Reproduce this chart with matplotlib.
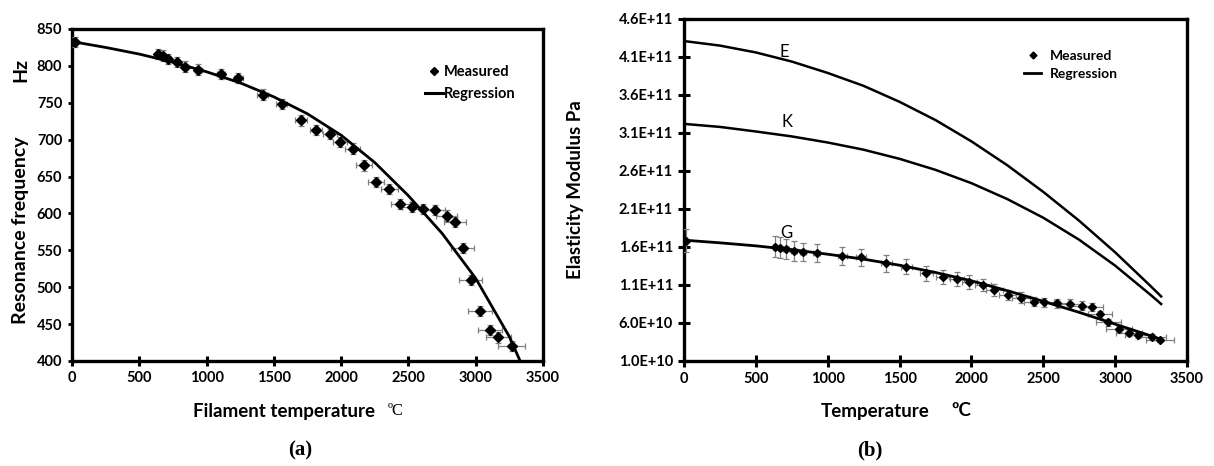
import matplotlib
matplotlib.use("Agg")
import matplotlib.pyplot as plt
from matplotlib.ticker import FuncFormatter
from matplotlib.lines import Line2D

plt.rcParams['font.family'] = ['Lato', 'DejaVu Sans']
plt.rcParams['font.weight'] = 'bold'

# ---------------- Panel (a) data ----------------
temps_a = [20, 641, 679, 716, 778, 840, 939, 1105, 1236, 1417, 1558, 1699, 1813, 1917,
           1992, 2086, 2170, 2262, 2358, 2441, 2524, 2606, 2697, 2784, 2846, 2903, 2963,
           3032, 3106, 3168, 3267]
freq_a = [832, 816, 814, 809, 805, 799, 795, 789, 784, 761, 748, 726, 713, 708,
          697, 688, 665, 643, 633, 613, 609, 606, 605, 597, 588, 553, 510,
          468, 442, 432, 420]
xerr_a = [10, 15, 15, 20, 20, 20, 25, 30, 35, 40, 40, 45, 45, 50,
          50, 55, 60, 60, 65, 70, 70, 75, 75, 80, 80, 85, 85,
          90, 90, 95, 100]
yerr_a = [7] * len(temps_a)

reg_temps_a = [0, 250, 500, 750, 1000, 1250, 1500, 1750, 2000, 2250, 2500, 2750, 3000, 3250, 3330]
reg_freq_a = [833, 825, 816, 805, 792, 777, 758, 735, 706, 669, 624, 573, 512, 433, 400]

xticks_a = [0, 500, 1000, 1500, 2000, 2500, 3000, 3500]
yticks_a = [400, 450, 500, 550, 600, 650, 700, 750, 800, 850]

# ---------------- Panel (b) data ----------------
temps_b = [14, 632, 667, 708, 766, 829, 922, 1102, 1229, 1408, 1547, 1686, 1801, 1898,
           1986, 2079, 2160, 2252, 2345, 2437, 2507, 2595, 2688, 2769, 2836, 2894, 2953,
           3028, 3097, 3162, 3255, 3312]
G_meas = [1.683e11, 1.604e11, 1.591e11, 1.574e11, 1.551e11, 1.530e11, 1.517e11, 1.486e11,
          1.464e11, 1.386e11, 1.341e11, 1.254e11, 1.209e11, 1.175e11, 1.143e11, 1.100e11,
          1.034e11, 0.968e11, 0.933e11, 0.880e11, 0.872e11, 0.859e11, 0.850e11, 0.828e11,
          0.807e11, 0.714e11, 0.609e11, 0.521e11, 0.465e11, 0.442e11, 0.420e11, 0.376e11]
G_yerr = [0.15e11, 0.14e11, 0.14e11, 0.13e11, 0.13e11, 0.12e11, 0.12e11, 0.12e11,
          0.11e11, 0.11e11, 0.10e11, 0.10e11, 0.09e11, 0.09e11, 0.09e11, 0.08e11,
          0.08e11, 0.07e11, 0.07e11, 0.06e11, 0.06e11, 0.06e11, 0.06e11, 0.06e11,
          0.05e11, 0.05e11, 0.05e11, 0.04e11, 0.04e11, 0.04e11, 0.04e11, 0.03e11]
G_xerr = [10, 15, 15, 20, 20, 20, 25, 30, 35, 40, 40, 45, 45, 50,
          50, 55, 60, 60, 65, 70, 70, 75, 75, 80, 80, 85, 85,
          90, 90, 95, 100, 100]

reg_temps_b = [0, 250, 500, 750, 1000, 1250, 1500, 1750, 2000, 2250, 2500, 2750, 3000, 3250, 3320]
E_line = [4.31e11, 4.25e11, 4.16e11, 4.04e11, 3.89e11, 3.72e11, 3.51e11, 3.27e11,
          2.99e11, 2.675e11, 2.325e11, 1.945e11, 1.53e11, 1.08e11, 0.95e11]
K_line = [3.22e11, 3.18e11, 3.12e11, 3.055e11, 2.975e11, 2.88e11, 2.76e11, 2.615e11,
          2.44e11, 2.23e11, 1.985e11, 1.695e11, 1.355e11, 0.965e11, 0.85e11]
G_line = [1.69e11, 1.655e11, 1.615e11, 1.565e11, 1.505e11, 1.44e11, 1.36e11, 1.265e11,
          1.155e11, 1.025e11, 0.885e11, 0.74e11, 0.585e11, 0.43e11, 0.385e11]

xticks_b = [0, 500, 1000, 1500, 2000, 2500, 3000, 3500]
yticks_b = [1.0e10, 6.0e10, 1.1e11, 1.6e11, 2.1e11, 2.6e11, 3.1e11, 3.6e11, 4.1e11, 4.6e11]

# ---------------- Figure ----------------
W, H = 1214, 466
fig = plt.figure(figsize=(W / 100, H / 100), dpi=100)

def frac_box(l, t, r, b):
    return [l / W, 1 - b / H, (r - l) / W, (b - t) / H]

ax_a = fig.add_axes(frac_box(72, 29, 543, 361))
ax_b = fig.add_axes(frac_box(684, 19, 1187, 361))

ecol = '0.5'

def style_axes(ax):
    for s in ax.spines.values():
        s.set_linewidth(2.4)
        s.set_color('black')
    ax.tick_params(axis='both', labelsize=10.5, pad=4)

# Panel (a)
ax_a.errorbar(temps_a, freq_a, xerr=xerr_a, yerr=yerr_a, fmt='D', color='black',
              markersize=5, ecolor=ecol, elinewidth=0.9, capsize=2.5, capthick=0.9, zorder=3)
ax_a.plot(reg_temps_a, reg_freq_a, color='black', lw=2.0, zorder=4, solid_joinstyle='round')
ax_a.set_xlim(0, 3500)
ax_a.set_ylim(400, 850)
ax_a.set_xticks(xticks_a)
ax_a.set_yticks(yticks_a)
style_axes(ax_a)
ax_a.tick_params(axis='x', direction='inout', length=7, width=2.2)
ax_a.tick_params(axis='y', direction='out', length=3, width=2.0)

h_meas = Line2D([], [], marker='D', color='black', ls='none', markersize=4.5)
h_reg = Line2D([], [], color='black', lw=2.2)
ax_a.legend([h_meas, h_reg], ['Measured', 'Regression'], frameon=False,
            loc='center left', bbox_to_anchor=(425 / W, 1 - 83 / H),
            bbox_transform=fig.transFigure, borderpad=0, borderaxespad=0,
            handlelength=1.25, handletextpad=0.05, labelspacing=0.55,
            prop=dict(family='Lato', weight='bold', size=10.5))

# Panel (b)
ax_b.plot(reg_temps_b, E_line, color='black', lw=1.8, zorder=2, solid_joinstyle='round')
ax_b.plot(reg_temps_b, K_line, color='black', lw=1.8, zorder=2, solid_joinstyle='round')
ax_b.errorbar(temps_b, G_meas, xerr=G_xerr, yerr=G_yerr, fmt='D', color='black',
              markersize=4.5, ecolor=ecol, elinewidth=0.9, capsize=2.5, capthick=0.9, zorder=3)
ax_b.plot(reg_temps_b, G_line, color='black', lw=2.0, zorder=4, solid_joinstyle='round')
ax_b.set_xlim(0, 3500)
ax_b.set_ylim(1.0e10, 4.6e11)
ax_b.set_xticks(xticks_b)
ax_b.set_yticks(yticks_b)
ax_b.yaxis.set_major_formatter(FuncFormatter(lambda v, p: f"{v:.1E}"))
style_axes(ax_b)
ax_b.tick_params(axis='both', direction='inout', length=8, width=2.2)

ax_b.text(701, 4.17e11, 'E', fontsize=12, fontweight='normal', ha='center', va='center')
ax_b.text(715, 3.24e11, 'K', fontsize=12, fontweight='normal', ha='center', va='center')
ax_b.text(715, 1.78e11, 'G', fontsize=12, fontweight='normal', ha='center', va='center')

h_meas_b = Line2D([], [], marker='D', color='black', ls='none', markersize=3.5)
h_reg_b = Line2D([], [], color='black', lw=2.0)
ax_b.legend([h_meas_b, h_reg_b], ['Measured', 'Regression'], frameon=False,
            loc='center left', bbox_to_anchor=(1024 / W, 1 - 65 / H),
            bbox_transform=fig.transFigure, borderpad=0, borderaxespad=0,
            handlelength=1.25, handletextpad=0.6, labelspacing=0.45,
            prop=dict(family='Lato', weight='bold', size=10))

# Axis labels (figure texts)
fig.text(21 / W, 1 - 230 / H, 'Resonance frequency', rotation=90, ha='center', va='center',
         fontsize=14, fontweight='bold')
fig.text(21 / W, 1 - 70 / H, 'Hz', rotation=90, ha='center', va='center',
         fontsize=14, fontweight='bold')
fig.text(284 / W, 1 - 411 / H, 'Filament temperature', ha='center', va='center',
         fontsize=13.5, fontweight='bold')
fig.text(396 / W, 1 - 411 / H, 'ºC', ha='center', va='center',
         fontsize=12, fontweight='normal', family='Liberation Serif')
fig.text(300 / W, 1 - 450 / H, '(a)', ha='center', va='center',
         fontsize=15, fontweight='bold', family='Liberation Serif')

fig.text(576 / W, 1 - 190 / H, 'Elasticity Modulus Pa', rotation=90, ha='center', va='center',
         fontsize=13.5, fontweight='bold')
fig.text(875 / W, 1 - 411 / H, 'Temperature', ha='center', va='center',
         fontsize=13.5, fontweight='bold')
fig.text(961 / W, 1 - 411 / H, 'ºC', ha='center', va='center',
         fontsize=13.5, fontweight='bold')
fig.text(870 / W, 1 - 450 / H, '(b)', ha='center', va='center',
         fontsize=15, fontweight='bold', family='Liberation Serif')

fig.savefig('out.png', dpi=100)
